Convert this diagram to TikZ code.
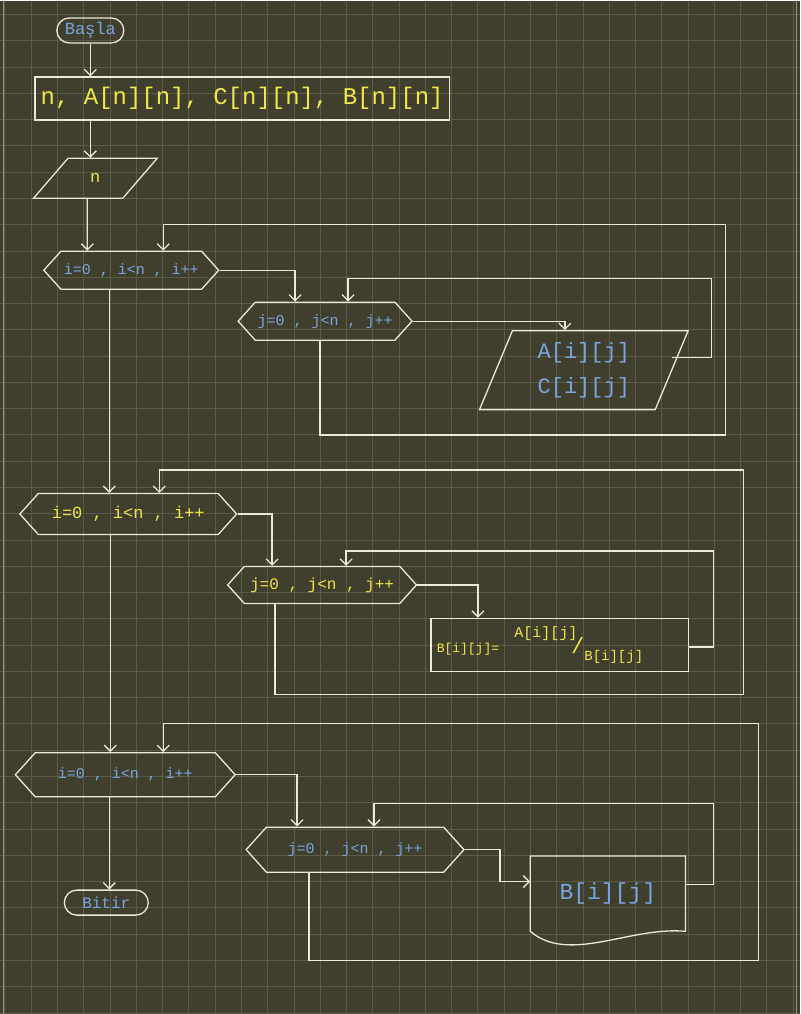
\documentclass[tikz,border=0pt]{standalone}
\usepackage{fontspec}
\newfontfamily\hand{Liberation Mono}
\usetikzlibrary{arrows.meta,shapes.geometric,shapes.symbols,shapes.misc,positioning}
\definecolor{bg}{RGB}{64,62,45}
\definecolor{gridc}{RGB}{92,91,72}
\definecolor{edgec}{RGB}{150,148,128}
\definecolor{linec}{RGB}{236,234,214}
\definecolor{ylw}{RGB}{240,232,72}
\definecolor{blu}{RGB}{122,166,224}

\begin{document}
\begin{tikzpicture}[x=1pt,y=-1pt,
  ln/.style={draw=linec,line width=1.3pt},
  arr/.style={ln,-{Straight Barb[length=6pt,width=12pt]}},
  hexa/.style={ln,signal,signal to=west and east,signal pointer angle=96,inner sep=0pt,minimum height=38pt},
  term/.style={ln,rounded rectangle,minimum height=25pt,inner sep=0pt},
  io/.style={ln,trapezium,trapezium stretches=true,inner sep=0pt},
  fs/.style={font=\hand\fontsize{#1}{#1}\selectfont},
  yt/.style={text=ylw},
  bt/.style={text=blu}]
\fill[bg] (0,0) rectangle (800,1014);
\foreach \k in {0,...,30} \draw[gridc,line width=0.8pt] (4.5+26.3*\k,0) -- (4.5+26.3*\k,1014);
\foreach \k in {0,...,38} \draw[gridc,line width=0.8pt] (0,14+26.3*\k) -- (800,14+26.3*\k);
\draw[edgec,line width=1pt] (3,0) -- (3,1014) (797,0) -- (797,1014);

\node[term,bt,fs=17,minimum width=67pt] (start) at (90,30) {Başla};
\node[ln,yt,fs=24,minimum width=415pt,minimum height=43pt] (decl) at (242,98) {n, A[n][n], C[n][n], B[n][n]};
\node[io,yt,fs=17,trapezium left angle=55,trapezium right angle=125,minimum width=124pt,minimum height=40pt] (inp) at (95,178) {n};

\node[hexa,bt,fs=15,minimum width=175pt] (h1) at (131,270) {i=0 , i<n , i++};
\node[hexa,bt,fs=15,minimum width=174pt] (h2) at (325,321) {j=0 , j<n , j++};
\node[io,bt,font=\hand\fontsize{22}{35}\selectfont,align=center,trapezium left angle=69,trapezium right angle=111,minimum width=209pt,minimum height=79pt] (out1) at (584,370) {A[i][j]\\C[i][j]};

\node[hexa,yt,fs=17,minimum width=217pt,minimum height=41pt] (h3) at (128,514) {i=0 , i<n , i++};
\node[hexa,yt,fs=16,minimum width=189pt,minimum height=37pt] (h4) at (322,585) {j=0 , j<n , j++};
\node[ln,minimum width=258pt,minimum height=53pt] (calc) at (560,645) {};
\node[yt,fs=13] (cl) at (468,649) {B[i][j]=};
\node[yt,fs=15] (cn) at (546,634) {A[i][j]};
\node[yt,fs=22] (cs) at (578,646) {/};
\node[yt,fs=14] (cd) at (614,657) {B[i][j]};

\node[hexa,bt,fs=15,minimum width=220pt,minimum height=44pt] (h5) at (125,775) {i=0 , i<n , i++};
\node[hexa,bt,fs=15,minimum width=218pt,minimum height=45pt] (h6) at (355,850) {j=0 , j<n , j++};
\node[bt,fs=23,minimum width=155pt,minimum height=75pt] (doc) at (608,894) {B[i][j]};
\draw[ln] (doc.south west) -- (doc.north west) -- (doc.north east) -- (doc.south east)
  .. controls ([xshift=-56pt,yshift=5pt]doc.south east) and ([xshift=39pt,yshift=-33pt]doc.south west) .. (doc.south west);
\node[term,bt,fs=16,minimum width=84pt] (stop) at (106,903) {Bitir};

\draw[arr] (start.south) -- (start.south |- decl.north);
\draw[arr] (start.south |- decl.south) -- (start.south |- inp.north);
\draw[arr] ([xshift=-8pt]inp.south) -- ([xshift=-44pt]h1.north);

\coordinate (c1) at (726,435);
\coordinate (c2) at (726,224);
\coordinate (c3) at (712,278);
\draw[arr] ([xshift=-5pt]h2.south) |- (c1) -- (c2) -| ([xshift=32pt]h1.north);
\draw[arr] (h1.east) -| ([xshift=-30pt]h2.north);
\draw[arr] (h2.east) -| ([xshift=-19pt]out1.north);
\draw[arr] ([yshift=13pt]out1.east) -| (c3) -| ([xshift=23pt]h2.north);
\draw[arr] ([xshift=-22pt]h1.south) -- ([xshift=-22pt]h1.south |- h3.north);

\coordinate (c4) at (744,695);
\coordinate (c5) at (744,470);
\coordinate (c6) at (714,551);
\draw[arr] ([xshift=-47pt]h4.south) |- (c4) -- (c5) -| ([xshift=31pt]h3.north);
\draw[arr] (h3.east) -| ([xshift=-50pt]h4.north);
\draw[arr] (h4.east) -| ([xshift=-82pt]calc.north);
\draw[arr] ([yshift=-2pt]calc.east) -| (c6) -| ([xshift=24pt]h4.north);
\draw[arr] ([xshift=-18pt]h3.south) -- ([xshift=-18pt]h3.south |- h5.north);

\coordinate (c7) at (759,961);
\coordinate (c8) at (759,724);
\coordinate (c9) at (500,882);
\coordinate (c10) at (714,804);
\draw[arr] ([xshift=-46pt]h6.south) |- (c7) -- (c8) -| ([xshift=38pt]h5.north);
\draw[arr] (h5.east) -| ([xshift=-58pt]h6.north);
\draw[arr] (h6.east) -| (c9) -- (c9 -| doc.west);
\draw[arr] ([yshift=9pt]doc.east) -| (c10) -| ([xshift=19pt]h6.north);
\draw[arr] ([xshift=-16pt]h5.south) -- ([xshift=-16pt]h5.south |- stop.north);
\end{tikzpicture}
\end{document}
